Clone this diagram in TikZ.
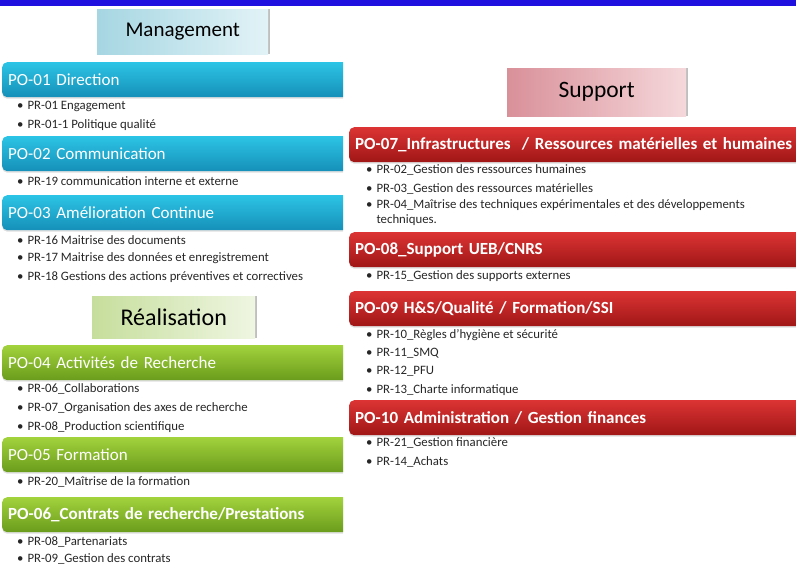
\documentclass[tikz,border=0pt]{standalone}
\usepackage{fontspec}
\setmainfont{Carlito}
\usepackage{tikz}
\usetikzlibrary{positioning,shadows}

\definecolor{topblue}{HTML}{2010E0}
\definecolor{cyanA}{HTML}{2CC4E6}
\definecolor{cyanB}{HTML}{1690B8}
\definecolor{greenA}{HTML}{A2D23C}
\definecolor{greenB}{HTML}{6A9C1C}
\definecolor{redA}{HTML}{DC3434}
\definecolor{redB}{HTML}{A01616}
\definecolor{itemgray}{HTML}{262626}
\definecolor{mgmtA}{HTML}{A6D6E2}
\definecolor{mgmtB}{HTML}{E2F3F7}
\definecolor{realA}{HTML}{C6DE9C}
\definecolor{realB}{HTML}{EFF6E2}
\definecolor{suppA}{HTML}{D99099}
\definecolor{suppB}{HTML}{F5D8DB}

\begin{document}
\begin{tikzpicture}[
    x=1pt, y=-1pt,
    bar/.style={rectangle, rounded corners=5pt, anchor=north west, minimum height=35pt,
        text=white, align=left, inner xsep=6pt, font=\fontsize{17}{19}\selectfont,
        drop shadow={opacity=0.25, shadow xshift=0pt, shadow yshift=-1.5pt}},
    bluebar/.style={bar, top color=cyanA, bottom color=cyanB, text width=343pt},
    greenbar/.style={bar, top color=greenA, bottom color=greenB, text width=343pt},
    redbar/.style={bar, top color=redA, bottom color=redB, text width=440pt,
        font=\fontsize{17}{19}\selectfont\bfseries},
    head/.style={rectangle, anchor=north west, text=black,
        drop shadow={opacity=0.5, shadow xshift=2pt, shadow yshift=0pt}},
    item/.style={anchor=west, inner sep=0pt, align=left, text=itemgray,
        font=\fontsize{12.8}{15}\selectfont}
]
\useasboundingbox (0,0) rectangle (796,565);

% Top band
\fill[topblue] (0,0) rectangle (796,5.5);

% Left column
\begin{scope}
\clip (0,0) rectangle (343,565);

\node[head, left color=mgmtA, right color=mgmtB, minimum width=171pt, minimum height=45pt,
    font=\fontsize{21}{23}\selectfont] (mgmt) at (97,9) {Management};

\node[bluebar] (po1) at (2,62) {PO-01 Direction};
\node[item] (pr1) at (17,106) {\textbullet\hspace{4pt}PR-01 Engagement};
\node[item] (pr11) at (17,125) {\textbullet\hspace{4pt}PR-01-1 Politique qualité};

\node[bluebar] (po2) at (2,136) {PO-02 Communication};
\node[item] (pr19) at (17,181) {\textbullet\hspace{4pt}PR-19 communication interne et externe};

\node[bluebar] (po3) at (2,195) {PO-03 Amélioration Continue};
\node[item] (pr16) at (17,240) {\textbullet\hspace{4pt}PR-16 Maitrise des documents};
\node[item] (pr17) at (17,258.5) {\textbullet\hspace{4pt}PR-17 Maitrise des données et enregistrement};
\node[item] (pr18) at (17,277) {\textbullet\hspace{4pt}PR-18 Gestions des actions préventives et correctives};

\node[head, left color=realA, right color=realB, minimum width=163pt, minimum height=42pt,
    font=\fontsize{24}{26}\selectfont] (real) at (92,296) {Réalisation};

\node[greenbar] (po4) at (2,345) {PO-04 Activités de Recherche};
\node[item] (pr6) at (17,389) {\textbullet\hspace{4pt}PR-06\_Collaborations};
\node[item] (pr7) at (17,408) {\textbullet\hspace{4pt}PR-07\_Organisation des axes de recherche};
\node[item] (pr8) at (17,427) {\textbullet\hspace{4pt}PR-08\_Production scientifique};

\node[greenbar] (po5) at (2,437) {PO-05 Formation};
\node[item] (pr20) at (17,482) {\textbullet\hspace{4pt}PR-20\_Maîtrise de la formation};

\node[greenbar, font=\fontsize{17}{19}\selectfont\bfseries] (po6) at (2,497) {PO-06\_Contrats de recherche/Prestations};
\node[item] (pr8b) at (17,541.5) {\textbullet\hspace{4pt}PR-08\_Partenariats};
\node[item] (pr9) at (17,558.5) {\textbullet\hspace{4pt}PR-09\_Gestion des contrats};
\end{scope}

% Right column
\node[head, left color=suppA, right color=suppB, minimum width=179pt, minimum height=48pt,
    font=\fontsize{23.5}{25}\selectfont] (supp) at (507,68) {Support};

\node[redbar] (po7) at (349,127) {PO-07\_Infrastructures~ / Ressources matérielles et humaines};
\node[item] (pr2) at (366,170) {\textbullet\hspace{4pt}PR-02\_Gestion des ressources humaines};
\node[item] (pr3) at (366,188.5) {\textbullet\hspace{4pt}PR-03\_Gestion des ressources matérielles};
\node[item, anchor=north west] (pr4) at (366,199.5) {\textbullet\hspace{4pt}PR-04\_Maîtrise des techniques expérimentales et des développements\\\hphantom{\textbullet\hspace{4pt}}techniques.};

\node[redbar] (po8) at (349,232) {PO-08\_Support UEB/CNRS};
\node[item] (pr15) at (366,276) {\textbullet\hspace{4pt}PR-15\_Gestion des supports externes};

\node[redbar] (po9) at (349,291) {PO-09 H\&S/Qualité / Formation/SSI};
\node[item] (pr10) at (366,335) {\textbullet\hspace{4pt}PR-10\_Règles d’hygiène et sécurité};
\node[item] (pr11b) at (366,353) {\textbullet\hspace{4pt}PR-11\_SMQ};
\node[item] (pr12) at (366,371.5) {\textbullet\hspace{4pt}PR-12\_PFU};
\node[item] (pr13) at (366,390) {\textbullet\hspace{4pt}PR-13\_Charte informatique};

\node[redbar] (po10) at (349,400) {PO-10 Administration / Gestion finances};
\node[item] (pr21) at (366,443) {\textbullet\hspace{4pt}PR-21\_Gestion financière};
\node[item] (pr14) at (366,461.5) {\textbullet\hspace{4pt}PR-14\_Achats};

\end{tikzpicture}
\end{document}
